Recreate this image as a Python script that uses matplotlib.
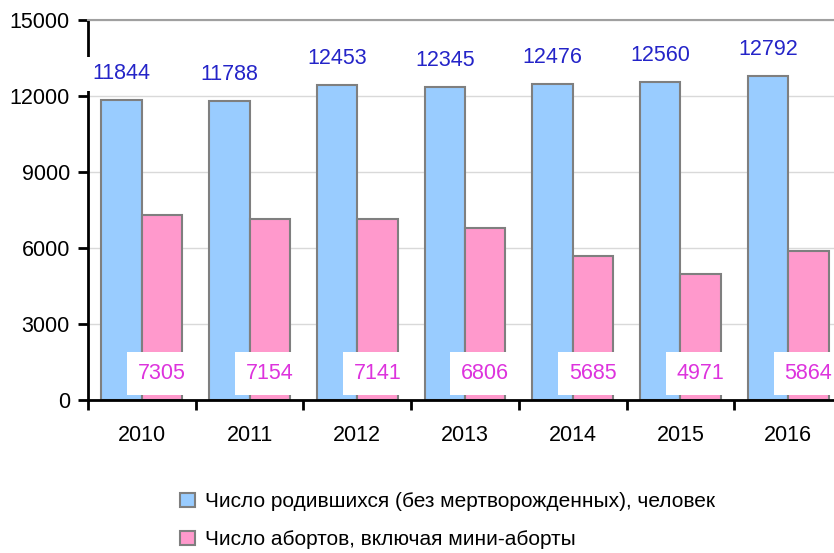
import matplotlib.pyplot as plt
import numpy as np

years = ["2010", "2011", "2012", "2013", "2014", "2015", "2016"]
births = [11844, 11788, 12453, 12345, 12476, 12560, 12792]
abortions = [7305, 7154, 7141, 6806, 5685, 4971, 5864]
legend_labels = [
    "Число родившихся (без мертворожденных), человек",
    "Число абортов, включая мини-аборты",
]

plt.rcParams["font.family"] = ["Liberation Sans", "DejaVu Sans"]

blue = "#99CCFF"
pink = "#FF99CC"
edge = "#7F7F7F"

fig = plt.figure(figsize=(8.34, 5.53), dpi=100)
# axes run past the right edge, as in the cropped original
ax = fig.add_axes([88 / 834, 1 - 400 / 553, 754 / 834, 380 / 553])

x = np.arange(len(years))
w = 0.375
b1 = ax.bar(x - w / 2, births, w, color=blue, edgecolor=edge, linewidth=1.5,
            label=legend_labels[0], zorder=2)
b2 = ax.bar(x + w / 2, abortions, w, color=pink, edgecolor=edge, linewidth=1.5,
            label=legend_labels[1], zorder=2)

for xi, v in zip(x, births):
    ax.annotate(str(v), (xi - w / 2, v), xytext=(0, 19), textcoords="offset points",
                ha="center", va="center", fontsize=15.5, color="#2424C8", zorder=4,
                bbox=dict(boxstyle="square,pad=0.3", fc="white", ec="none"))

for xi, v in zip(x, abortions):
    ax.annotate(str(v), (xi + w / 2, 0), xytext=(0, 19), textcoords="offset points",
                ha="center", va="center", fontsize=15.5, color="#DD33DD", zorder=4,
                bbox=dict(boxstyle="square,pad=0.5", fc="white", ec="none"))

ax.set_xlim(-0.5, len(years) - 0.5)
ax.set_ylim(0, 15000)
ax.set_yticks(np.arange(0, 15001, 3000))
ax.set_xticks(x)
ax.set_xticklabels(years)
ax.set_xticks(np.arange(-0.5, len(years), 1), minor=True)
ax.tick_params(axis="x", which="major", length=0, pad=18, labelsize=15.5)
ax.tick_params(axis="x", which="minor", length=7, width=2, direction="out")
ax.tick_params(axis="y", length=7, width=2, direction="out", pad=6, labelsize=15.5)

ax.grid(axis="y", color="#D9D9D9", linewidth=1, zorder=0)
ax.set_axisbelow(True)
for s in ["left", "bottom"]:
    ax.spines[s].set_linewidth(2)
    ax.spines[s].set_color("black")
ax.spines["top"].set_color("#A0A0A0")
ax.spines["top"].set_linewidth(1.5)
ax.spines["right"].set_visible(False)

fig.legend(handles=[b1, b2], loc="upper left", bbox_to_anchor=(170 / 834, 1 - 482 / 553),
           frameon=False, fontsize=15, handlelength=0.7, handleheight=0.7,
           handletextpad=0.5, labelspacing=0.9, borderpad=0)

fig.savefig("out.png", dpi=100)
